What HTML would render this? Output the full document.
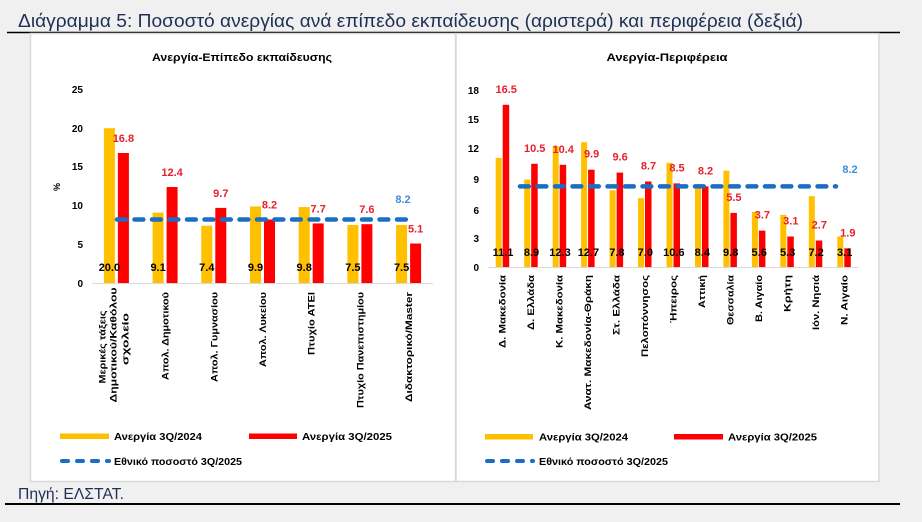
<!DOCTYPE html>
<html><head><meta charset="utf-8"><style>
html,body{margin:0;padding:0;background:#f0f0f0;}
svg{display:block;font-family:"Liberation Sans",sans-serif;}
</style></head><body>
<svg width="922" height="522" viewBox="0 0 922 522" xmlns="http://www.w3.org/2000/svg">
<rect width="922" height="522" fill="#f0f0f0"/>
<text x="18" y="27" font-size="18" fill="#1f2f55" textLength="785" lengthAdjust="spacingAndGlyphs">Διάγραμμα 5: Ποσοστό ανεργίας ανά επίπεδο εκπαίδευσης (αριστερά) και περιφέρεια (δεξιά)</text>
<line x1="7" y1="32.5" x2="900" y2="32.5" stroke="#000" stroke-width="1.5"/>
<rect x="30.5" y="33.5" width="425" height="448" fill="#fff" stroke="#d9d9d9" stroke-width="1.5"/>
<rect x="456" y="33.5" width="423" height="448" fill="#fff" stroke="#d9d9d9" stroke-width="1.5"/>
<text x="18" y="499" font-size="16" fill="#1f2f55" textLength="106" lengthAdjust="spacingAndGlyphs">Πηγή: ΕΛΣΤΑΤ.</text>
<line x1="5" y1="504" x2="900" y2="504" stroke="#000" stroke-width="2"/>

<!-- LEFT CHART -->
<text x="242" y="61" font-size="11" font-weight="bold" text-anchor="middle" fill="#000" textLength="180" lengthAdjust="spacingAndGlyphs">Ανεργία-Επίπεδο εκπαίδευσης</text>
<g font-size="10" font-weight="bold" text-anchor="end" fill="#000">
<text x="83" y="93">25</text><text x="83" y="132">20</text><text x="83" y="170">15</text><text x="83" y="209">10</text><text x="83" y="248">5</text><text x="83" y="287">0</text>
</g>
<text transform="translate(60,187) rotate(-90)" font-size="9" font-weight="bold" text-anchor="middle">%</text>
<line x1="92" y1="283.5" x2="433" y2="283.5" stroke="#d9d9d9" stroke-width="1"/>
<g fill="#FFC000">
<rect x="103.9" y="128.2" width="11" height="154.8"/>
<rect x="152.6" y="212.6" width="11" height="70.4"/>
<rect x="201.3" y="225.7" width="11" height="57.3"/>
<rect x="250" y="206.4" width="11" height="76.6"/>
<rect x="298.7" y="207.1" width="11" height="75.9"/>
<rect x="347.4" y="224.95" width="11" height="58.05"/>
<rect x="396.1" y="224.95" width="11" height="58.05"/>
</g>
<g fill="#FF0000">
<rect x="117.9" y="153" width="11" height="130"/>
<rect x="166.6" y="187" width="11" height="96"/>
<rect x="215.3" y="207.9" width="11" height="75.1"/>
<rect x="264" y="219.5" width="11" height="63.5"/>
<rect x="312.7" y="223.4" width="11" height="59.6"/>
<rect x="361.4" y="224.2" width="11" height="58.8"/>
<rect x="410.1" y="243.5" width="11" height="39.5"/>
</g>
<g font-size="11" font-weight="bold" text-anchor="middle" fill="#e5202f">
<text x="123.4" y="142">16.8</text>
<text x="172.1" y="176">12.4</text>
<text x="220.8" y="197">9.7</text>
<text x="269.5" y="208.5">8.2</text>
<text x="318.2" y="212.4">7.7</text>
<text x="366.9" y="213.2">7.6</text>
<text x="415.6" y="232.5">5.1</text>
</g>
<g font-size="11" font-weight="bold" text-anchor="middle" fill="#000">
<text x="109.4" y="271">20.0</text>
<text x="158.1" y="271">9.1</text>
<text x="206.8" y="271">7.4</text>
<text x="255.5" y="271">9.9</text>
<text x="304.2" y="271">9.8</text>
<text x="352.9" y="271">7.5</text>
<text x="401.6" y="271">7.5</text>
</g>
<line x1="117" y1="219.5" x2="408" y2="219.5" stroke="#1a6fc4" stroke-width="4.5" stroke-linecap="round" stroke-dasharray="8.8 8.7"/>
<text x="403" y="203" font-size="11" font-weight="bold" text-anchor="middle" fill="#3a8fd8">8.2</text>
<g font-size="9.5" font-weight="bold" fill="#000">
<text transform="translate(102,347) rotate(-90)" y="3.5" text-anchor="middle" textLength="73" lengthAdjust="spacingAndGlyphs">Μερικές τάξεις</text>
<text transform="translate(113,345) rotate(-90)" y="3.5" text-anchor="middle" textLength="115" lengthAdjust="spacingAndGlyphs">Δημοτικού/Καθόλου</text>
<text transform="translate(125,339) rotate(-90)" y="3.5" text-anchor="middle" textLength="52" lengthAdjust="spacingAndGlyphs">σχολείο</text>
<text transform="translate(165.1,292) rotate(-90)" y="3.5" text-anchor="end" textLength="88" lengthAdjust="spacingAndGlyphs">Απολ. Δημοτικού</text>
<text transform="translate(213.8,292) rotate(-90)" y="3.5" text-anchor="end" textLength="90" lengthAdjust="spacingAndGlyphs">Απολ. Γυμνασίου</text>
<text transform="translate(262.5,292) rotate(-90)" y="3.5" text-anchor="end" textLength="75" lengthAdjust="spacingAndGlyphs">Απολ. Λυκείου</text>
<text transform="translate(311.2,292) rotate(-90)" y="3.5" text-anchor="end" textLength="63" lengthAdjust="spacingAndGlyphs">Πτυχίο ΑΤΕΙ</text>
<text transform="translate(359.9,292) rotate(-90)" y="3.5" text-anchor="end" textLength="116" lengthAdjust="spacingAndGlyphs">Πτυχίο Πανεπιστημίου</text>
<text transform="translate(408.6,292) rotate(-90)" y="3.5" text-anchor="end" textLength="110" lengthAdjust="spacingAndGlyphs">Διδακτορικό/Master</text>
</g>
<rect x="60" y="433.5" width="49" height="5.5" fill="#FFC000"/>
<rect x="249" y="433.5" width="48" height="5.5" fill="#FF0000"/>
<line x1="62" y1="461" x2="109" y2="461" stroke="#1a6fc4" stroke-width="4" stroke-linecap="round" stroke-dasharray="6 9"/>
<g font-size="10" font-weight="bold" fill="#000">
<text x="114" y="440" textLength="88" lengthAdjust="spacingAndGlyphs">Ανεργία 3Q/2024</text>
<text x="302" y="440" textLength="90" lengthAdjust="spacingAndGlyphs">Ανεργία 3Q/2025</text>
<text x="114" y="465" textLength="128" lengthAdjust="spacingAndGlyphs">Εθνικό ποσοστό 3Q/2025</text>
</g>

<!-- RIGHT CHART -->
<text x="667" y="61" font-size="11" font-weight="bold" text-anchor="middle" fill="#000" textLength="121" lengthAdjust="spacingAndGlyphs">Ανεργία-Περιφέρεια</text>
<g font-size="10" font-weight="bold" text-anchor="end" fill="#000">
<text x="479" y="94">18</text><text x="479" y="123">15</text><text x="479" y="152">12</text><text x="479" y="183">9</text><text x="479" y="214">6</text><text x="479" y="242">3</text><text x="479" y="271">0</text>
</g>
<line x1="488" y1="267.5" x2="858" y2="267.5" stroke="#d9d9d9" stroke-width="1"/>
<g fill="#FFC000">
<rect x="495.7" y="157.9" width="6" height="109.1"/>
<rect x="524.2" y="179.5" width="6" height="87.5"/>
<rect x="552.7" y="146.1" width="6" height="120.9"/>
<rect x="581.1" y="142.2" width="6" height="124.8"/>
<rect x="609.6" y="190.3" width="6" height="76.7"/>
<rect x="638" y="198.2" width="6" height="68.8"/>
<rect x="666.5" y="162.8" width="6" height="104.2"/>
<rect x="695" y="184.4" width="6" height="82.6"/>
<rect x="723.4" y="170.7" width="6" height="96.3"/>
<rect x="751.9" y="212" width="6" height="55"/>
<rect x="780.3" y="214.9" width="6" height="52.1"/>
<rect x="808.8" y="196.2" width="6" height="70.8"/>
<rect x="837.3" y="236.5" width="6" height="30.5"/>
</g>
<g fill="#FF0000">
<rect x="502.7" y="104.8" width="6.5" height="162.2"/>
<rect x="531.2" y="163.8" width="6.5" height="103.2"/>
<rect x="559.7" y="164.8" width="6.5" height="102.2"/>
<rect x="588.1" y="169.7" width="6.5" height="97.3"/>
<rect x="616.6" y="172.6" width="6.5" height="94.4"/>
<rect x="645" y="181.5" width="6.5" height="85.5"/>
<rect x="673.5" y="183.4" width="6.5" height="83.6"/>
<rect x="702" y="186.4" width="6.5" height="80.6"/>
<rect x="730.4" y="212.9" width="6.5" height="54.1"/>
<rect x="758.9" y="230.6" width="6.5" height="36.4"/>
<rect x="787.3" y="236.5" width="6.5" height="30.5"/>
<rect x="815.8" y="240.5" width="6.5" height="26.5"/>
<rect x="844.3" y="248.3" width="6.5" height="18.7"/>
</g>
<g font-size="11" font-weight="bold" text-anchor="middle" fill="#e5202f">
<text x="506.2" y="93">16.5</text>
<text x="534.7" y="151.8">10.5</text>
<text x="563.2" y="152.8">10.4</text>
<text x="591.6" y="157.7">9.9</text>
<text x="620.1" y="160.6">9.6</text>
<text x="648.5" y="169.5">8.7</text>
<text x="677" y="171.4">8.5</text>
<text x="705.5" y="174.4">8.2</text>
<text x="733.9" y="200.9">5.5</text>
<text x="762.4" y="218.6">3.7</text>
<text x="790.8" y="224.5">3.1</text>
<text x="819.3" y="228.5">2.7</text>
<text x="847.8" y="236.3">1.9</text>
</g>
<g font-size="11" font-weight="bold" text-anchor="middle" fill="#000">
<text x="503" y="256">11.1</text>
<text x="531.5" y="256">8.9</text>
<text x="560" y="256">12.3</text>
<text x="588.4" y="256">12.7</text>
<text x="616.9" y="256">7.8</text>
<text x="645.3" y="256">7.0</text>
<text x="673.8" y="256">10.6</text>
<text x="702.3" y="256">8.4</text>
<text x="730.7" y="256">9.8</text>
<text x="759.2" y="256">5.6</text>
<text x="787.6" y="256">5.3</text>
<text x="816.1" y="256">7.2</text>
<text x="844.6" y="256">3.1</text>
</g>
<line x1="520" y1="186.4" x2="836" y2="186.4" stroke="#1a6fc4" stroke-width="4.5" stroke-linecap="round" stroke-dasharray="8.8 8.7"/>
<text x="850" y="173" font-size="11" font-weight="bold" text-anchor="middle" fill="#3a8fd8">8.2</text>
<g font-size="9.5" font-weight="bold" fill="#000" text-anchor="end">
<text transform="translate(502.2,275) rotate(-90)" y="3.5" textLength="73" lengthAdjust="spacingAndGlyphs">Δ. Μακεδονία</text>
<text transform="translate(530.7,275) rotate(-90)" y="3.5" textLength="55" lengthAdjust="spacingAndGlyphs">Δ. Ελλάδα</text>
<text transform="translate(559.2,275) rotate(-90)" y="3.5" textLength="73" lengthAdjust="spacingAndGlyphs">Κ. Μακεδονία</text>
<text transform="translate(587.6,275) rotate(-90)" y="3.5" textLength="135" lengthAdjust="spacingAndGlyphs">Ανατ. Μακεδονία-Θράκη</text>
<text transform="translate(616.1,275) rotate(-90)" y="3.5" textLength="60" lengthAdjust="spacingAndGlyphs">Στ. Ελλάδα</text>
<text transform="translate(644.5,275) rotate(-90)" y="3.5" textLength="82" lengthAdjust="spacingAndGlyphs">Πελοπόννησος</text>
<text transform="translate(673,275) rotate(-90)" y="3.5" textLength="48" lengthAdjust="spacingAndGlyphs">Ήπειρος</text>
<text transform="translate(701.5,275) rotate(-90)" y="3.5" textLength="33" lengthAdjust="spacingAndGlyphs">Αττική</text>
<text transform="translate(729.9,275) rotate(-90)" y="3.5" textLength="50" lengthAdjust="spacingAndGlyphs">Θεσσαλία</text>
<text transform="translate(758.4,275) rotate(-90)" y="3.5" textLength="47" lengthAdjust="spacingAndGlyphs">Β. Αιγαίο</text>
<text transform="translate(786.8,275) rotate(-90)" y="3.5" textLength="37" lengthAdjust="spacingAndGlyphs">Κρήτη</text>
<text transform="translate(815.3,275) rotate(-90)" y="3.5" textLength="55" lengthAdjust="spacingAndGlyphs">Ιόν. Νησιά</text>
<text transform="translate(843.8,275) rotate(-90)" y="3.5" textLength="50" lengthAdjust="spacingAndGlyphs">Ν. Αιγαίο</text>
</g>
<rect x="485" y="434" width="48" height="5.5" fill="#FFC000"/>
<rect x="674" y="434" width="49" height="5.5" fill="#FF0000"/>
<line x1="487" y1="461" x2="533" y2="461" stroke="#1a6fc4" stroke-width="4" stroke-linecap="round" stroke-dasharray="6 9"/>
<g font-size="10" font-weight="bold" fill="#000">
<text x="539" y="440.5" textLength="89" lengthAdjust="spacingAndGlyphs">Ανεργία 3Q/2024</text>
<text x="728" y="440.5" textLength="89" lengthAdjust="spacingAndGlyphs">Ανεργία 3Q/2025</text>
<text x="539" y="465" textLength="129" lengthAdjust="spacingAndGlyphs">Εθνικό ποσοστό 3Q/2025</text>
</g>
</svg>
</body></html>
